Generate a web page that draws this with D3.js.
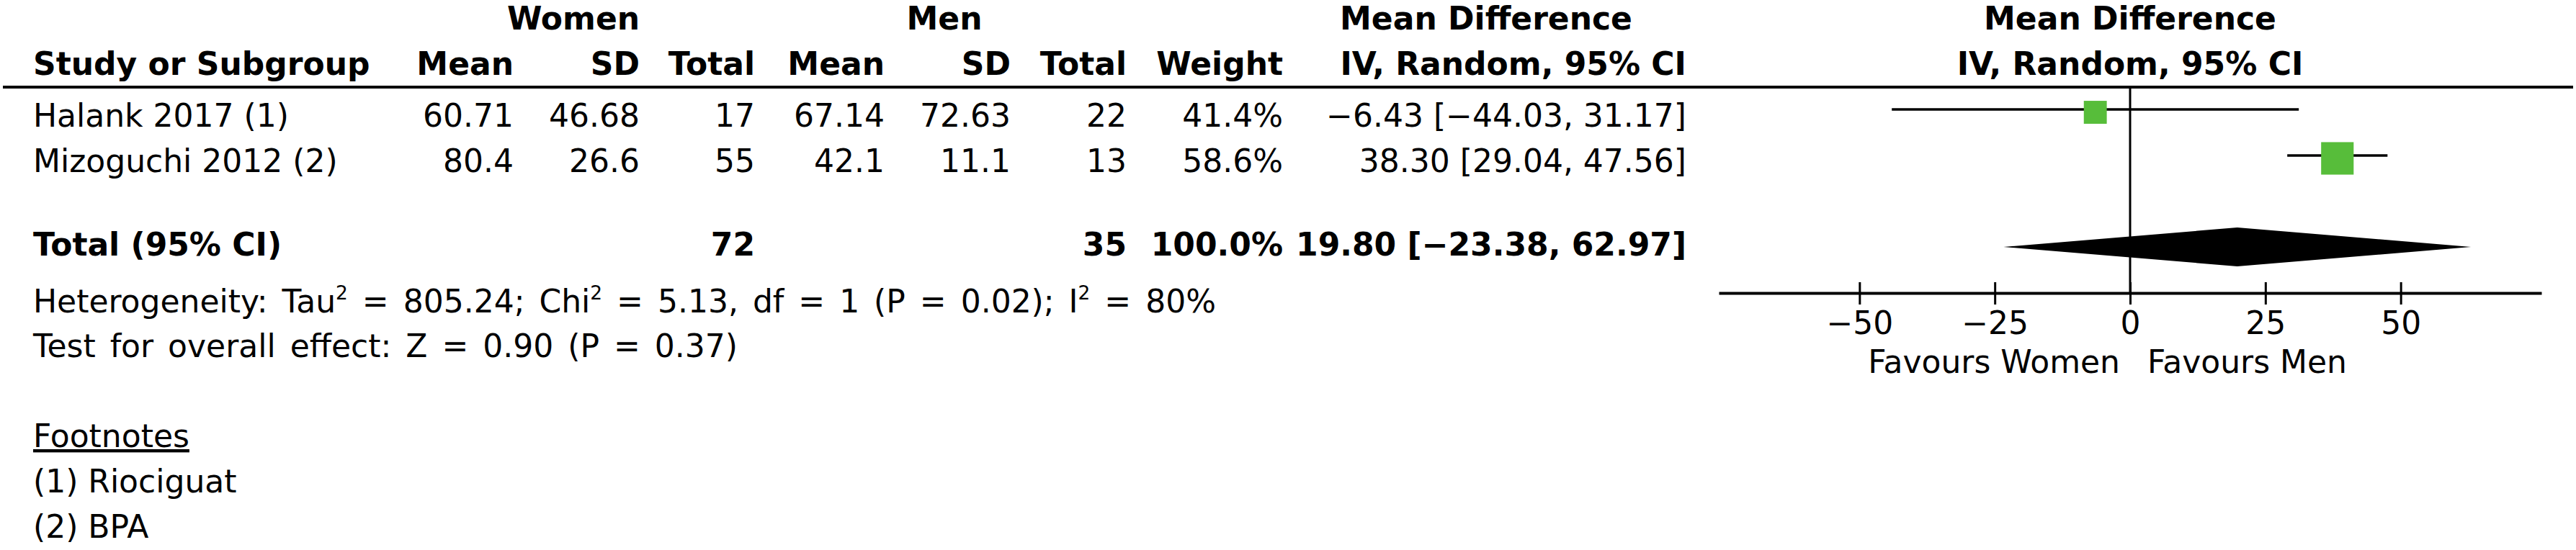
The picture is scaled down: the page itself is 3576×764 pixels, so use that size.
<!DOCTYPE html>
<html>
<head>
<meta charset="utf-8">
<script src="https://cdn.jsdelivr.net/npm/d3@7/dist/d3.min.js"></script>
<style>
  html, body { margin: 0; padding: 0; background: #fff; }
  svg { display: block; }
  text { font-family: "DejaVu Sans", Verdana, sans-serif; fill: #000; }
</style>
</head>
<body>
<svg id="chart" width="3576" height="764"></svg>
<script>
// ---------------- DATA ----------------
const studies     = ["Halank 2017 (1)", "Mizoguchi 2012 (2)"];
const womenMean   = [60.71, 80.4];
const womenSD     = [46.68, 26.6];
const womenTotal  = [17, 55];
const menMean     = [67.14, 42.1];
const menSD       = [72.63, 11.1];
const menTotal    = [22, 13];
const weights     = [41.4, 58.6];
const meanDiff    = [-6.43, 38.30];
const ciLower     = [-44.03, 29.04];
const ciUpper     = [31.17, 47.56];

const totalLabel      = "Total (95% CI)";
const totalWomen      = 72;
const totalMen        = 35;
const totalWeight     = 100.0;
const totalMeanDiff   = 19.80;
const totalCiLower    = -23.38;
const totalCiUpper    = 62.97;

const axisTicks   = [-50, -25, 0, 25, 50];
const axisDomain  = [-76, 76];
const favourLabels = ["Favours Women", "Favours Men"];

const groupHeaders = ["Women", "Men", "Mean Difference"];
const colHeaders   = ["Study or Subgroup", "Mean", "SD", "Total", "Mean", "SD", "Total", "Weight", "IV, Random, 95% CI"];
const plotHeaders  = ["Mean Difference", "IV, Random, 95% CI"];
const footnoteTitle = "Footnotes";
const footnotes    = ["(1) Riociguat", "(2) BPA"];

// ---------------- LAYOUT ----------------
const FS = 44;
const GREEN = "#57BD3A";
const svg = d3.select("#chart");

const colRight = { wMean: 713, wSD: 888, wTot: 1048, mMean: 1228, mSD: 1403, mTot: 1564, weight: 1781, ci: 2341 };
const studyX = 46;

const rowBase  = [176, 239];
const rowMid   = [152, 216];
const totalBase = 355, totalMid = 343;
const headerLineY = 121;
const axisY = 407;

const x = d3.scaleLinear().domain(axisDomain).range([2386, 3528]);

const minus = s => s.replace(/-/g, "\u2212");
const f2 = v => minus(v.toFixed(2));
const ciText = (m, l, u) => `${f2(m)} [${f2(l)}, ${f2(u)}]`;

function txt(g, s, xx, yy, anchor, bold) {
  return g.append("text").attr("x", xx).attr("y", yy)
    .attr("text-anchor", anchor || "start")
    .attr("font-size", FS)
    .attr("font-weight", bold ? "bold" : "normal")
    .text(s);
}

const table = svg.append("g");

// group headers
txt(table, groupHeaders[0], 796, 41, "middle", true);
txt(table, groupHeaders[1], 1311, 41, "middle", true);
txt(table, groupHeaders[2], 2063, 41, "middle", true);

// column headers
const hdrY = 104;
txt(table, colHeaders[0], studyX, hdrY, "start", true);
const hdrCols = ["wMean", "wSD", "wTot", "mMean", "mSD", "mTot", "weight", "ci"];
hdrCols.forEach((c, i) => txt(table, colHeaders[i + 1], colRight[c], hdrY, "end", true));

// plot headers
txt(table, plotHeaders[0], x(0), 41, "middle", true);
txt(table, plotHeaders[1], x(0), hdrY, "middle", true);

// header rule
table.append("line").attr("x1", 4).attr("x2", 3572)
  .attr("y1", headerLineY).attr("y2", headerLineY)
  .attr("stroke", "#000").attr("stroke-width", 4);

// study rows
studies.forEach((s, i) => {
  const y = rowBase[i];
  txt(table, s, studyX, y, "start");
  txt(table, minus(String(womenMean[i])), colRight.wMean, y, "end");
  txt(table, minus(String(womenSD[i])), colRight.wSD, y, "end");
  txt(table, String(womenTotal[i]), colRight.wTot, y, "end");
  txt(table, minus(String(menMean[i])), colRight.mMean, y, "end");
  txt(table, minus(String(menSD[i])), colRight.mSD, y, "end");
  txt(table, String(menTotal[i]), colRight.mTot, y, "end");
  txt(table, weights[i].toFixed(1) + "%", colRight.weight, y, "end");
  txt(table, ciText(meanDiff[i], ciLower[i], ciUpper[i]), colRight.ci, y, "end");
});

// total row
txt(table, totalLabel, studyX, totalBase, "start", true);
txt(table, String(totalWomen), colRight.wTot, totalBase, "end", true);
txt(table, String(totalMen), colRight.mTot, totalBase, "end", true);
txt(table, totalWeight.toFixed(1) + "%", colRight.weight, totalBase, "end", true);
txt(table, ciText(totalMeanDiff, totalCiLower, totalCiUpper), colRight.ci, totalBase, "end", true);

// heterogeneity lines (with superscripts)
function supLine(y, parts) {
  const t = table.append("text").attr("x", studyX).attr("y", y).attr("font-size", FS)
    .attr("word-spacing", 6);
  const up = FS * 0.42;
  let raised = false;
  parts.forEach(p => {
    if (p.sup) {
      t.append("tspan").attr("font-size", FS * 0.6).attr("dy", -up).text(p.sup);
      raised = true;
    } else {
      const ts = t.append("tspan").text(p.t);
      if (raised) { ts.attr("dy", up); raised = false; }
    }
  });
}
supLine(434, [
  { t: "Heterogeneity: Tau" }, { sup: "2" }, { t: " = 805.24; Chi" }, { sup: "2" },
  { t: " = 5.13, df = 1 (P = 0.02); I" }, { sup: "2" }, { t: " = 80%" }
]);
txt(table, "Test for overall effect: Z = 0.90 (P = 0.37)", studyX, 496, "start")
  .attr("word-spacing", 6);

// footnotes
const ft = txt(table, footnoteTitle, studyX, 621, "start");
ft.attr("text-decoration", "underline");
footnotes.forEach((f, i) => txt(table, f, studyX, 684 + i * 63, "start"));

// ---------------- FOREST PLOT ----------------
const plot = svg.append("g");
const sizeScale = d3.scaleLinear().domain([0, 100]).range([0, 77]);

// zero line
plot.append("line").attr("x1", x(0)).attr("x2", x(0))
  .attr("y1", headerLineY).attr("y2", axisY)
  .attr("stroke", "#000").attr("stroke-width", 3);

// whiskers
plot.selectAll("line.ci").data(studies).join("line").attr("class", "ci")
  .attr("x1", (d, i) => x(ciLower[i])).attr("x2", (d, i) => x(ciUpper[i]))
  .attr("y1", (d, i) => rowMid[i]).attr("y2", (d, i) => rowMid[i])
  .attr("stroke", "#000").attr("stroke-width", 3.5);

// squares
plot.selectAll("rect.pt").data(studies).join("rect").attr("class", "pt")
  .attr("x", (d, i) => x(meanDiff[i]) - sizeScale(weights[i]) / 2)
  .attr("y", (d, i) => rowMid[i] + 4 - sizeScale(weights[i]) / 2)
  .attr("width", (d, i) => sizeScale(weights[i]))
  .attr("height", (d, i) => sizeScale(weights[i]))
  .attr("fill", GREEN);

// diamond
const dh = 27;
plot.append("path")
  .attr("d", `M${x(totalCiLower)},${totalMid} L${x(totalMeanDiff)},${totalMid - dh} L${x(totalCiUpper)},${totalMid} L${x(totalMeanDiff)},${totalMid + dh} Z`)
  .attr("fill", "#000");

// axis
const axis = d3.axisBottom(x).tickValues(axisTicks).tickSizeOuter(0).tickSizeInner(16)
  .tickFormat(d3.format("d"));
const ag = plot.append("g").attr("transform", `translate(0,${axisY})`).call(axis);
ag.select(".domain").attr("stroke", "#000").attr("stroke-width", 4);
ag.selectAll(".tick line").attr("y1", -15).attr("y2", 16).attr("stroke", "#000").attr("stroke-width", 3);
ag.selectAll(".tick text").attr("y", 57).attr("dy", 0)
  .attr("font-size", FS).attr("font-family", "DejaVu Sans").attr("fill", "#000");

// favour labels
txt(plot, favourLabels[0], x(0) - 14, 518, "end");
txt(plot, favourLabels[1], x(0) + 24, 518, "start");
</script>
</body>
</html>
